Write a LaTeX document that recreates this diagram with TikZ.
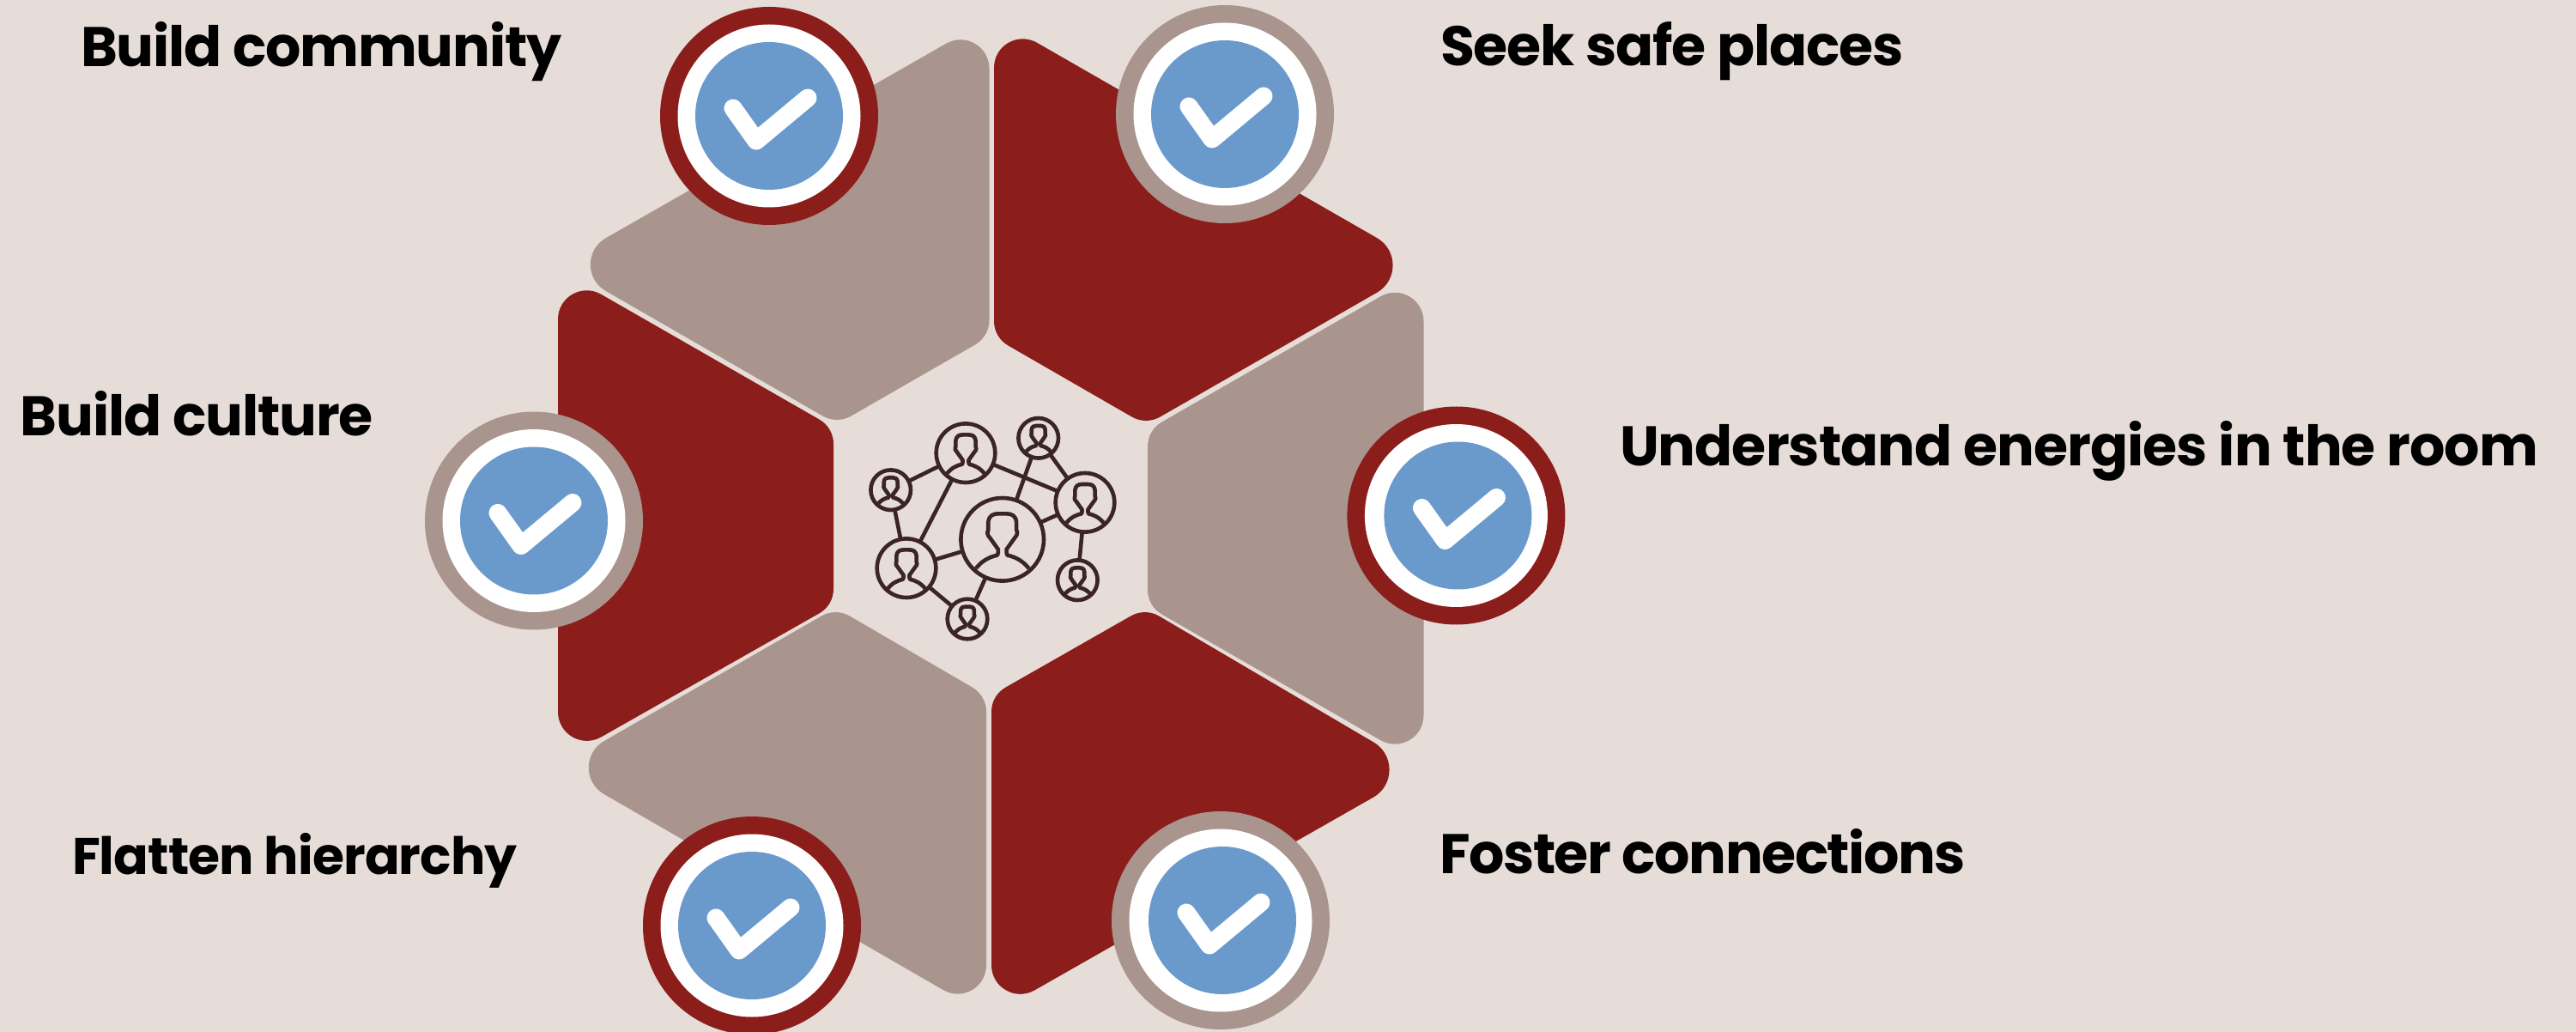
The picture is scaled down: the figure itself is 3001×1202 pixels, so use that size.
\documentclass[tikz,border=0pt]{standalone}
\usepackage{fontspec}
\setmainfont{Poppins}
\usetikzlibrary{calc}
\definecolor{pagebg}{HTML}{E6DDD8}
\definecolor{darkred}{HTML}{8B1E1B}
\definecolor{taupe}{HTML}{A9958E}
\definecolor{badgeblue}{HTML}{6A9ACB}
\definecolor{iconink}{HTML}{3B2426}
\tikzset{
  badgeouter/.style={circle,inner sep=0pt,outer sep=0pt,minimum size=127pt},
  badgewhite/.style={circle,fill=white,inner sep=0pt,outer sep=0pt,minimum size=106.5pt},
  badgeinner/.style={circle,fill=badgeblue,inner sep=0pt,outer sep=0pt,minimum size=86pt},
  checkstroke/.style={draw=white,line width=10.5pt,line cap=round,line join=round},
  hubcircle/.style={circle,draw=iconink,line width=2.3pt,inner sep=0pt,outer sep=0pt},
  hubline/.style={draw=iconink,line width=2.3pt},
  hubglyph/.style={draw=iconink,line width=2.3pt,line join=round},
  labeltext/.style={anchor=base west,inner sep=0pt,outer sep=0pt,text=black,font=\fontsize{32.5pt}{36pt}\selectfont\bfseries},
  labelsmall/.style={labeltext,font=\fontsize{30pt}{34pt}\selectfont\bfseries},
}
\newcommand\tracked[2]{\addfontfeature{LetterSpace=#1}#2}
\newcommand\rnd[5]{-- ($(#2)!#4!(#1)$) .. controls ($(#2)!#5!(#1)$) and ($(#2)!#5!(#3)$) .. ($(#2)!#4!(#3)$)}
% #6,#7: tangent length and control distance at corner B
\newcommand\petal[7]{%
  \coordinate (pa) at (#2);
  \coordinate (pb) at (#3);
  \coordinate (pc) at (#4);
  \coordinate (pd) at (#5);
  \fill[#1] ($(pa)!.5!(pb)$)
    \rnd{pa}{pb}{pc}{#6}{#7}
    \rnd{pb}{pc}{pd}{9.5pt}{3.6pt}
    \rnd{pc}{pd}{pa}{9.5pt}{3.6pt}
    \rnd{pd}{pa}{pb}{29pt}{16pt}
    -- cycle;
}
\newcommand\badge[5]{%
  \node[badgeouter,fill=#4] (#1) at (#2,#3) {};
  \node[badgewhite] (#1w) at (#1.center) {};
  \node[badgeinner] (#1b) at ($(#1.center)+(#5,0)$) {};
  \draw[checkstroke,shift={(#1b.center)}] (-42,-9) -- (-15,29) -- (45,-21);
}
\newcommand\hub[4]{%
  \node[hubcircle,minimum size=#4 pt] (#1) at (#2,#3) {};
  \draw[hubglyph,x=#4*0.5pt,y=#4*0.5pt,shift={(#1.center)}]
    (-.64,-.70) .. controls (-.48,-.50) and (-.30,-.42) .. (-.12,-.38)
    .. controls (-.10,-.36) and (-.10,-.30) .. (-.10,-.24)
    -- (-.30,.04) .. controls (-.37,.10) and (-.37,.20) .. (-.34,.22)
    -- (-.34,.42) .. controls (-.32,.58) and (-.22,.62) .. (-.10,.62)
    -- (.10,.62) .. controls (.22,.62) and (.32,.58) .. (.34,.42)
    -- (.34,.22) .. controls (.37,.20) and (.37,.10) .. (.30,.04)
    -- (.10,-.24) .. controls (.10,-.30) and (.10,-.36) .. (.12,-.38)
    .. controls (.30,-.42) and (.48,-.50) .. (.64,-.70);
}
\begin{document}
\begin{tikzpicture}[x=0.5pt,y=-0.5pt]
\useasboundingbox (0,0) rectangle (3001,1202);
\clip (0,0) rectangle (3001,1202);
\fill[pagebg] (0,0) rectangle (3001,1202);
% petals
\petal{taupe}{1152.5,22}{652,308}{975,494}{1152.5,392}{31pt}{17.2pt}
\petal{darkred}{1158,21}{1659.6,309}{1335,495}{1158,393}{32pt}{17.8pt}
\petal{darkred}{650,314}{650,887}{971,705}{971,498}{29pt}{16pt}
\petal{taupe}{1658.5,316.5}{1658.5,891}{1337,706}{1337,501}{29pt}{16pt}
\petal{taupe}{1149,1182}{650,894}{973.5,708}{1149,810}{31pt}{17.2pt}
\petal{darkred}{1155,1182}{1655.5,897}{1334,708}{1155,810}{32pt}{17.8pt}
% badges
\badge{bTL}{896}{135}{darkred}{0}
\badge{bTR}{1427}{133}{taupe}{0}
\badge{bR}{1696.4}{600.5}{darkred}{2}
\badge{bL}{622}{606.5}{taupe}{0}
\badge{bBL}{876}{1078}{darkred}{0}
\badge{bBR}{1422}{1072}{taupe}{2}
% central network icon
\hub{big}{1167.7}{628.3}{48.3}
\hub{topleft}{1125}{527.7}{34.3}
\hub{smallleft}{1037.7}{570.7}{23.3}
\hub{midleft}{1056}{661.7}{34.3}
\hub{bottom}{1127}{721}{23.3}
\hub{topright}{1209.7}{510.3}{23.3}
\hub{right}{1264}{585.3}{34.3}
\hub{lowright}{1255.3}{675.7}{23.3}
\draw[hubline] (smallleft) -- (topleft);
\draw[hubline] (smallleft) -- (midleft);
\draw[hubline] (topleft) -- (midleft);
\draw[hubline] (topleft) -- (right);
\draw[hubline] (topright) -- (big);
\draw[hubline] (topright) -- (right);
\draw[hubline] (big) -- (right);
\draw[hubline] (big) -- (midleft);
\draw[hubline] (big) -- (bottom);
\draw[hubline] (midleft) -- (bottom);
\draw[hubline] (right) -- (lowright);
% labels
\node[labeltext] (l1) at (94,78) {\tracked{-1.8}{Build community}};
\node[labeltext] (l2) at (1678,77) {\tracked{-1.75}{Seek safe places}};
\node[labeltext] (l3) at (23.5,507.6) {\tracked{-1.65}{Build culture}};
\node[labeltext] (l4) at (1887,543) {\tracked{-1.5}{Understand energies in the room}};
\node[labelsmall] (l5) at (84,1018) {\tracked{-1.5}{Flatten hierarchy}};
\node[labeltext] (l6) at (1677,1017) {\tracked{-2.2}{Foster connections}};
\end{tikzpicture}
\end{document}
